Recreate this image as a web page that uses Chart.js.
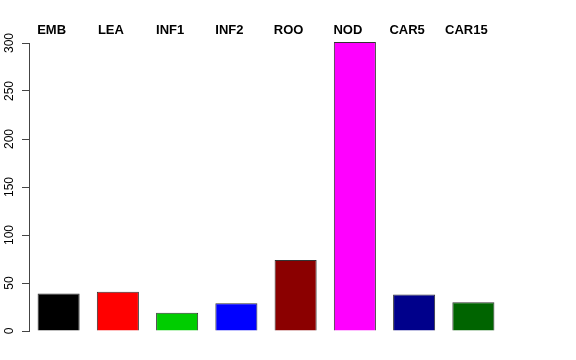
<!DOCTYPE html>
<html>
<head>
<meta charset="utf-8">
<script src="https://cdn.jsdelivr.net/npm/chart.js@4/dist/chart.umd.min.js"></script>
<style>
  html, body { margin: 0; padding: 0; background: #fff; }
  #wrap { width: 576px; height: 360px; }
</style>
</head>
<body>
<div id="wrap"><canvas id="barChart" width="576" height="360"></canvas></div>
<script>
// tissues shown across the top
const tecidos = ['EMB', 'LEA', 'INF1', 'INF2', 'ROO', 'NOD', 'CAR5', 'CAR15'];
// counts
const contagens = [39, 41, 19, 29, 74, 301, 38, 30];
const coresBarras = ['#000000', '#ff0000', '#00cd00', '#0000ff', '#8b0000', '#ff00ff', '#00008b', '#006400'];
const ticksY = [0, 50, 100, 150, 200, 250, 300];

const dados = {
    labels: tecidos,
    datasets: [{
        data: contagens,
        backgroundColor: coresBarras,
        borderColor: '#333333',
        borderWidth: 1,
        barPercentage: 0.71,
        categoryPercentage: 1.0,
        clip: false
    }]
};

const config = {
    type: 'bar',
    data: dados,
    options: {
        responsive: false,
        animation: false,
        layout: { padding: { top: 0, right: 73, bottom: 29, left: 0 } },
        plugins: { legend: { display: false }, tooltip: { enabled: false } },
        scales: {
            x: { display: false },
            xTop: {
                type: 'category',
                labels: tecidos,
                position: 'top',
                grid: { display: false },
                border: { display: false },
                ticks: {
                    color: '#000',
                    font: { family: 'Liberation Sans', size: 13, weight: 'bold' },
                    padding: -3,
                    labelOffset: -7,
                    maxRotation: 0,
                    autoSkip: false
                },
                afterFit: function (scale) { scale.height = 43; }
            },
            y: {
                min: 0,
                max: 300,
                afterBuildTicks: function (scale) {
                    scale.ticks = ticksY.map(v => ({ value: v }));
                },
                grid: { drawOnChartArea: false, drawTicks: true, tickLength: 7, color: '#444' },
                border: { display: true, color: '#444', width: 1 },
                ticks: {
                    color: '#000',
                    font: { family: 'Liberation Sans', size: 12 },
                    minRotation: 90,
                    maxRotation: 90,
                    crossAlign: 'center',
                    padding: 2
                },
                afterFit: function (scale) { scale.width = 29; }
            }
        }
    }
};

const ctx = document.getElementById('barChart').getContext('2d');
let grafico = new Chart(ctx, config);
</script>
</body>
</html>
